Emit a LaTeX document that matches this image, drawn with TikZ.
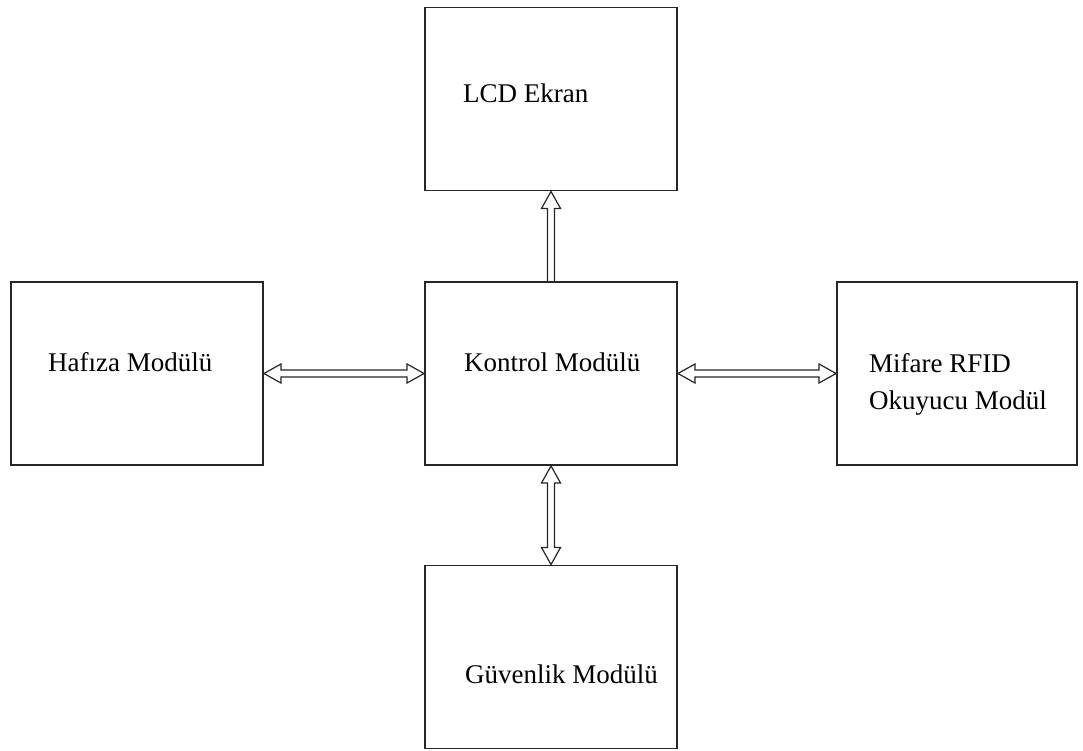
\documentclass[tikz,border=0pt]{standalone}
\usepackage{fontspec}
\setmainfont{Liberation Serif}
\usetikzlibrary{calc}
\begin{document}
\begin{tikzpicture}[x=1pt,y=-1pt,
  box/.style={draw=black!85, line width=1.9pt, minimum width=252pt, minimum height=183pt, inner sep=0pt},
  lbl/.style={anchor=base west, inner sep=0pt, font=\fontsize{27}{37}\selectfont},
  conn/.style={draw=black!85, line width=1.2pt, line join=miter},
  both/.style={conn, to path={
    let \p1=($(\tikztostart)!17pt!(\tikztotarget)$),
        \p2=($(\tikztotarget)!17pt!(\tikztostart)$) in
    (\tikztostart) -- ($(\p1)!9.5pt!90:(\tikztotarget)$) -- ($(\p1)!3.5pt!90:(\tikztotarget)$)
    -- ($(\p2)!3.5pt!-90:(\tikztostart)$) -- ($(\p2)!9.5pt!-90:(\tikztostart)$)
    -- (\tikztotarget)
    -- ($(\p2)!9.5pt!90:(\tikztostart)$) -- ($(\p2)!3.5pt!90:(\tikztostart)$)
    -- ($(\p1)!3.5pt!-90:(\tikztotarget)$) -- ($(\p1)!9.5pt!-90:(\tikztotarget)$) -- cycle}},
  single/.style={conn, to path={
    let \p2=($(\tikztotarget)!17pt!(\tikztostart)$) in
    ($(\tikztostart)!3.5pt!90:(\tikztotarget)$) -- ($(\p2)!3.5pt!-90:(\tikztostart)$)
    -- ($(\p2)!9.5pt!-90:(\tikztostart)$) -- (\tikztotarget)
    -- ($(\p2)!9.5pt!90:(\tikztostart)$) -- ($(\p2)!3.5pt!90:(\tikztostart)$)
    -- ($(\tikztostart)!3.5pt!-90:(\tikztotarget)$)}}]
\useasboundingbox[fill=white] (0,0) rectangle (1083,751);
% boxes
\node[box] (lcd) at (551,99) {};
\node[box] (haf) at (137,373.5) {};
\node[box] (kon) at (551,373.5) {};
\node[box, minimum width=240pt] (mif) at (957,373.5) {};
\node[box] (guv) at (551,657) {};
% labels
\node[lbl] (tlcd) at (463,103) {LCD Ekran};
\node[lbl] (thaf) at (48,371) {Hafıza Modülü};
\node[lbl] (tkon) at (464,371) {Kontrol Modülü};
\node[lbl] (tmif1) at (869,372) {Mifare RFID};
\node[lbl] (tmif2) at (869,409) {Okuyucu Modül};
\node[lbl] (tguv) at (465,683) {Güvenlik Modülü};
% connectors
\draw[both] (haf.east) to (kon.west);
\draw[single] (kon.north) to (lcd.south);
\draw[both] (kon.east) to (mif.west);
\draw[both] (kon.south) to (guv.north);
\end{tikzpicture}
\end{document}
